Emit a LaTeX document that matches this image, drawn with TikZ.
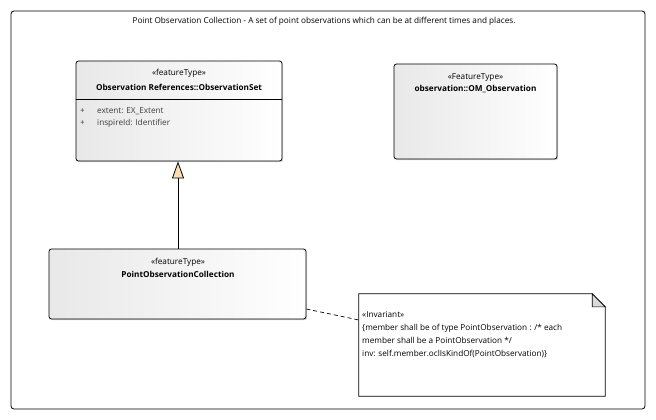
\documentclass[tikz,border=0pt]{standalone}
\usepackage{fontspec}
\setmainfont{Open Sans}
\usetikzlibrary{shadows,arrows.meta,calc}
\definecolor{peach}{HTML}{FCDDB4}
\definecolor{attr}{HTML}{3C3C3C}
\tikzset{
  txt/.style={font=\fontsize{8.2}{10}\selectfont, inner sep=0pt, anchor=base},
  bold/.style={font=\fontsize{8.2}{10}\selectfont\bfseries},
  classbox/.style={draw=black, line width=0.8pt, rounded corners=2.5pt,
    left color=black!9, right color=white,
    drop shadow={shadow xshift=1.2pt, shadow yshift=-1.2pt, fill=black!25, opacity=0.6},
    inner sep=0pt},
}
\begin{document}
\begin{tikzpicture}[x=1pt,y=-1pt]
\useasboundingbox (0,0) rectangle (656,420);
\node[draw=black, line width=0.8pt, rounded corners=3pt, fill=white, minimum width=634pt, minimum height=398pt, inner sep=0pt] (frame) at (328,210) {};
\node[txt] (title) at (324,24) {Point Observation Collection - A set of point observations which can be at different times and places.};

% ObservationSet
\node[classbox, minimum width=206pt, minimum height=100pt] (obsset) at (179,111) {};
\node[txt] (obsst) at (179,76) {«featureType»};
\node[txt, bold] (obsnm) at (179,90) {Observation References::ObservationSet};
\draw[line width=0.8pt] (obsset.west |- 0,99) coordinate (sepa) -- (obsset.east |- 0,99) coordinate (sepb);
\node[txt, anchor=base west, text=attr] (p1) at (80,113) {+};
\node[txt, anchor=base west, text=attr] (a1) at (97,113) {extent: EX\_Extent};
\node[txt, anchor=base west, text=attr] (p2) at (80,125) {+};
\node[txt, anchor=base west, text=attr] (a2) at (97,125) {inspireId: Identifier};

% OM_Observation
\node[classbox, minimum width=163pt, minimum height=95pt] (omobs) at (475.5,111.5) {};
\node[txt] (omst) at (475.5,79) {«FeatureType»};
\node[txt, bold] (omnm) at (475.5,92) {observation::OM\_Observation};

% PointObservationCollection
\node[classbox, minimum width=257pt, minimum height=70pt] (poc) at (177.5,284) {};
\node[txt] (pocst) at (178,264) {«featureType»};
\node[txt, bold] (pocnm) at (178,277) {PointObservationCollection};

% Note
\node[minimum width=246pt, minimum height=102pt, inner sep=0pt] (note) at (482,345) {};
\draw[line width=0.8pt, fill=white] (note.south west) -- (note.north west) -- ($(note.north east)+(-13,0)$) coordinate (fa) -- ($(note.north east)+(0,13)$) coordinate (fb) -- (note.south east) -- cycle;
\draw[line width=0.6pt, fill=black!15] (fa) -- (fa |- fb) -- (fb) -- cycle;
\node[txt, anchor=base west] (n1) at (362,317) {«Invariant»};
\node[txt, anchor=base west] (n2) at (362,330) {\{member shall be of type PointObservation : /* each};
\node[txt, anchor=base west] (n3) at (362,343) {member shall be a PointObservation */};
\node[txt, anchor=base west] (n4) at (362,356) {inv: self.member.oclIsKindOf(PointObservation)\}};

% connectors
\draw[line width=0.8pt, -{Triangle[width=12pt, length=17pt, fill=peach]}] (poc.north -| 178,0) -- (obsset.south -| 178,0);
\draw[line width=0.7pt, dash pattern=on 4pt off 3pt] (poc.east |- 0,309) -- (note.west |- 0,320);
\end{tikzpicture}
\end{document}
